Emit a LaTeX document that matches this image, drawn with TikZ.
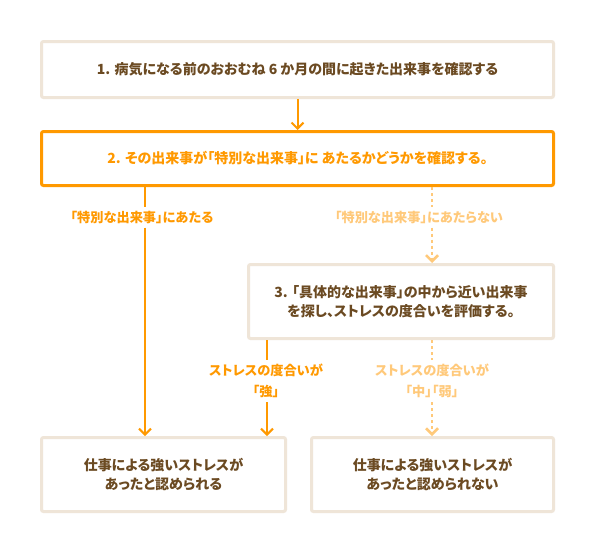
\documentclass[tikz,border=0pt]{standalone}
\usepackage{fontspec}
\setmainfont{Noto Sans CJK JP}[RawFeature=+palt]
\usepackage{xcolor}
\usetikzlibrary{arrows.meta,positioning,calc}
\definecolor{frame}{HTML}{EFE5D8}
\definecolor{brown}{HTML}{6B4A22}
\definecolor{hit}{HTML}{FF9900}
\definecolor{miss}{HTML}{FFC97A}
\tikzset{
  box/.style={draw=frame,rounded corners=2pt,line width=3pt,align=center,fill=white,
    text=brown,font=\fontsize{14}{19}\selectfont\bfseries},
  lbl/.style={align=center,inner sep=4pt,font=\fontsize{13.2}{21}\selectfont\bfseries},
  yes/.style={-{Straight Barb[length=6pt,width=12pt]},line width=2pt,draw=hit},
  nope/.style={-{Straight Barb[length=6pt,width=12pt]},line width=2.5pt,draw=miss,
    dash pattern=on 3pt off 3pt}
}

\begin{document}
\begin{tikzpicture}[x=1pt,y=-1pt]
 \useasboundingbox[fill=white] (0,0) rectangle (596,555);
 \node[box,minimum width=512pt,minimum height=56pt] (check) at (297.5,69.5)
   {1. 病気になる前のおおむね 6 か月の間に起きた出来事を確認する};
 \node[box,draw=hit,text=hit,minimum width=512pt,minimum height=54pt] (special) at (297.5,158.5)
   {2. その出来事が「特別な出来事」に あたるかどうかを確認する。};
 \node[box,minimum width=305pt,minimum height=74pt] (eval) at (401,301.5)
   {3. 「具体的な出来事」の中から近い出来事\\を探し、ストレスの度合いを評価する。};
 \node[box,minimum width=244pt,minimum height=74pt] (yes) at (163.5,474.5)
   {仕事による強いストレスが\\あったと認められる};
 \node[box,minimum width=242pt,minimum height=74pt] (no) at (432.5,474.5)
   {仕事による強いストレスが\\あったと認められない};
 % columns of the connectors
 \coordinate (hitcol) at (145,0);
 \coordinate (strcol) at (267,0);
 \coordinate (col) at (432,0);
 \node[lbl,text=hit] (isspecial) at (142,217) {「特別な出来事」にあたる};
 \node[lbl,text=miss] (notspecial) at (419,217) {「特別な出来事」にあたらない};
 \node[lbl,text=hit] (strong) at (266,381) {ストレスの度合いが\\「強」};
 \node[lbl,text=miss] (weak) at (432,381) {ストレスの度合いが\\「中」「弱」};
 \draw[yes] (check) -- (special);
 \draw[hit,line width=2pt] (special.south -| hitcol) -- (isspecial.north -| hitcol);
 \draw[yes] (isspecial.south -| hitcol) -- (yes.north -| hitcol);
 \draw[miss,line width=2.5pt,dash pattern=on 3pt off 3pt] (special.south -| col) -- (notspecial.north -| col);
 \draw[nope] (notspecial.south -| col) -- (eval.north -| col);
 \draw[hit,line width=2pt] (eval.south -| strcol) -- (strong.north -| strcol);
 \draw[yes] (strong.south -| strcol) -- (yes.north -| strcol);
 \draw[miss,line width=2.5pt,dash pattern=on 3pt off 3pt] (eval.south -| col) -- (weak);
 \draw[nope] (weak) -- (no.north -| col);
\end{tikzpicture}
\end{document}
